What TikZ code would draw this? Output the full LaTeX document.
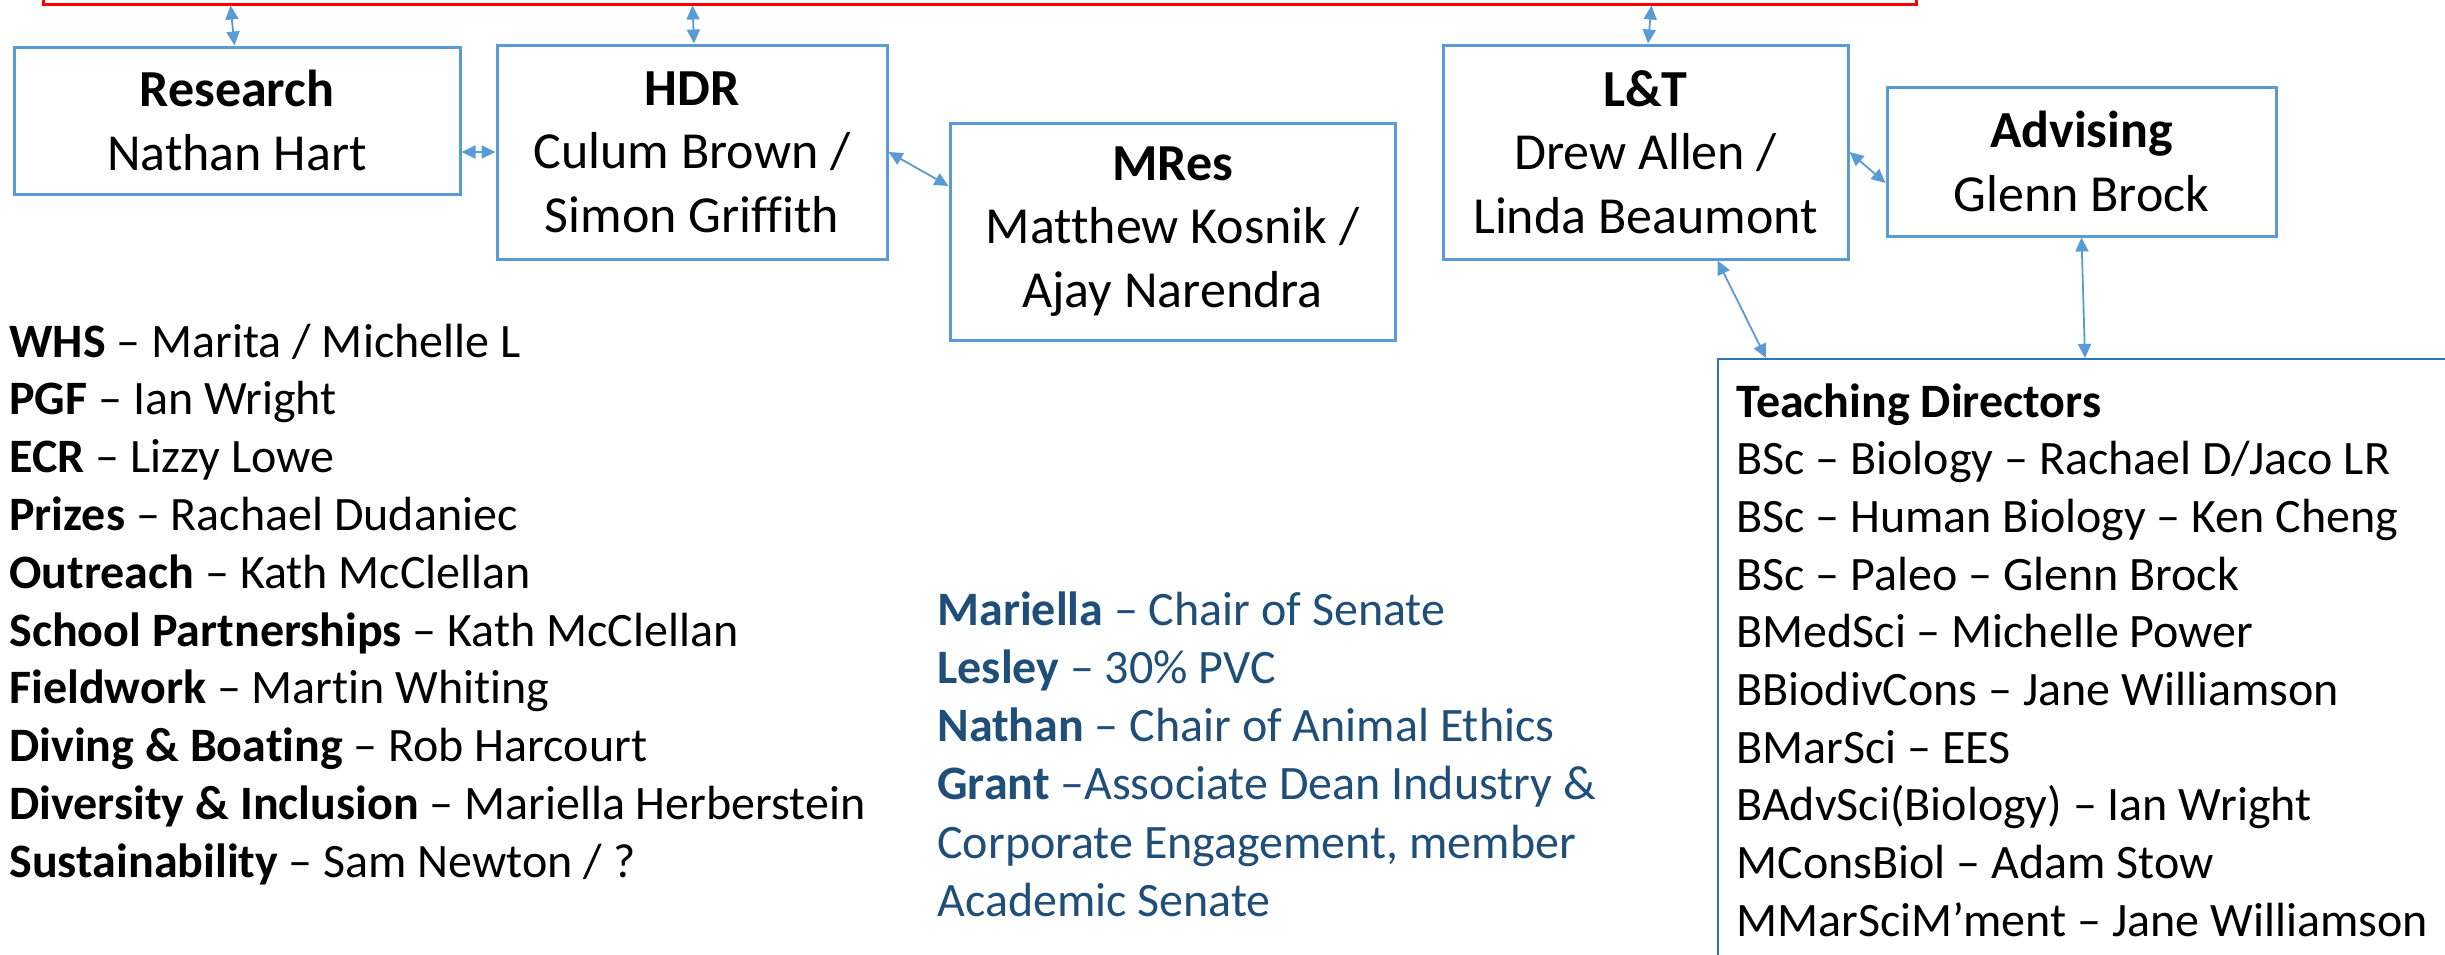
\documentclass[tikz,border=0pt]{standalone}
\usepackage{fontspec}
\setmainfont{Carlito}[Ligatures={NoCommon}]
\usetikzlibrary{arrows.meta}
\definecolor{boxblue}{HTML}{5B9BD5}
\definecolor{tdblue}{HTML}{2E75B6}
\definecolor{navy}{HTML}{1F4E79}
\definecolor{senatered}{HTML}{FF0000}

\begin{document}
\begin{tikzpicture}[x=0.5pt,y=-0.5pt,
  rolebox/.style={draw=boxblue, line width=1.5pt, inner sep=0pt, align=center,
                  font=\fontsize{26}{31.75}\selectfont},
  link/.style={draw=boxblue, line width=0.9pt,
               {Triangle[length=7pt,width=6.5pt]}-{Triangle[length=7pt,width=6.5pt]}},
  entry/.style={anchor=base west, inner sep=0pt, font=\fontsize{24}{29}\selectfont},
  note/.style={entry, text=navy}]
\useasboundingbox (0,0) rectangle (2445,954);
\clip (0,0) rectangle (2445,954);
\fill[white] (0,0) rectangle (2445,954);

% senate frame running off the top edge
\node[draw=senatered, line width=1.5pt, minimum width=936.5pt, minimum height=52pt,
      inner sep=0pt] (senate) at (979.5,-48) {};

% role boxes
\node[rolebox, minimum width=223pt, minimum height=73.5pt] (res) at (237,120.5)
  {\textbf{Research}\\Nathan Hart};
\node[rolebox, minimum width=195pt, minimum height=107pt] (hdr) at (692,152)
  {\textbf{HDR}\\Culum Brown /\\Simon Griffith};
\node[rolebox, minimum width=222.5pt, minimum height=108.5pt] (mres) at (1172.5,231.5)
  {\textbf{MRes}\\Matthew Kosnik /\\Ajay Narendra};
\node[rolebox, minimum width=202.5pt, minimum height=107pt] (lt) at (1645.5,152)
  {\textbf{L\&T}\\Drew Allen /\\Linda Beaumont};
\node[rolebox, minimum width=194.5pt, minimum height=74.5pt] (adv) at (2081.5,161.5)
  {\textbf{Advising}\\Glenn Brock};
\node[draw=tdblue, line width=1pt, minimum width=376pt, minimum height=310.5pt,
      inner sep=0pt] (td) at (2094,669.5) {};

% connectors
\draw[link] ([xshift=94.5pt]senate.south west) -- ([xshift=111pt]res.north west);
\draw[link] ([xshift=325.5pt]senate.south west) -- ([xshift=1pt]hdr.north);
\draw[link] ([xshift=805pt]senate.south west) -- ([xshift=1.25pt]lt.north);
\draw[link] ([yshift=-15.75pt]res.east) -- (hdr.west);
\draw[link] (hdr.east) -- ([yshift=22.75pt]mres.west);
\draw[link] (lt.east) -- ([yshift=-10.75pt]adv.west);
\draw[link] ([xshift=138pt]lt.south west) -- ([xshift=24.5pt]td.north west);
\draw[link] (adv.south) -- ([xshift=184pt]td.north west);

% portfolio list
\foreach \t [count=\i from 0] in {
  {\textbf{WHS} – Marita / Michelle L},
  {\textbf{PGF} – Ian Wright},
  {\textbf{ECR} – Lizzy Lowe},
  {\textbf{Prizes} – Rachael Dudaniec},
  {\textbf{Outreach} – Kath McClellan},
  {\textbf{School Partnerships} – Kath McClellan},
  {\textbf{Fieldwork} – Martin Whiting},
  {\textbf{Diving \& Boating} – Rob Harcourt},
  {\textbf{Diversity \& Inclusion} – Mariella Herberstein},
  {\textbf{Sustainability} – Sam Newton / ?}}
  \node[entry] (port\i) at (9,357+57.8*\i) {\t};

% university roles
\foreach \t [count=\i from 0] in {
  {\textbf{Mariella} – Chair of Senate},
  {\textbf{Lesley} – 30\% PVC},
  {\textbf{Nathan} – Chair of Animal Ethics},
  {\textbf{Grant} –Associate Dean Industry \&},
  {Corporate Engagement, member},
  {Academic Senate}}
  \node[note] (uni\i) at (937,625+58.3*\i) {\t};

% teaching directors
\foreach \t [count=\i from 0] in {
  {\textbf{Teaching Directors}},
  {BSc – Biology – Rachael D/Jaco LR},
  {BSc – Human Biology – Ken Cheng},
  {BSc – Paleo – Glenn Brock},
  {BMedSci – Michelle Power},
  {BBiodivCons – Jane Williamson},
  {BMarSci – EES},
  {BAdvSci(Biology) – Ian Wright},
  {MConsBiol – Adam Stow},
  {MMarSciM’ment – Jane Williamson}}
  \node[entry] (dir\i) at (1736,417+57.7*\i) {\t};
\end{tikzpicture}
\end{document}
